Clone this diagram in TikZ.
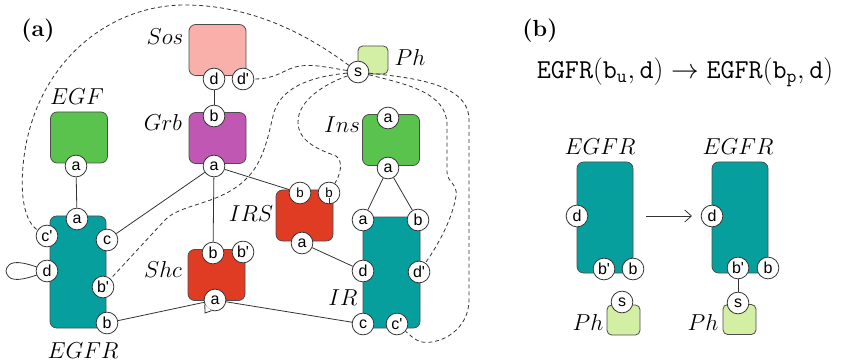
\documentclass[tikz,border=0pt]{standalone}
\usepackage{fontspec}
\setsansfont{Liberation Sans}
\usetikzlibrary{arrows.meta}
\definecolor{egfrcol}{HTML}{079E9E}
\definecolor{egfcol}{HTML}{5AC34E}
\definecolor{grbcol}{HTML}{C058B3}
\definecolor{soscol}{HTML}{F9AFAA}
\definecolor{redcol}{HTML}{E03C24}
\definecolor{phcol}{HTML}{D3EFA3}
\pgfdeclarelayer{back}
\pgfdeclarelayer{mid}
\pgfsetlayers{back,mid,main}
\newcommand{\pr}{\textquotesingle}
\begin{document}
\begin{tikzpicture}[x=0.75pt,y=-0.75pt,
  site/.style={circle,draw=black!80,fill=white,line width=0.6pt,minimum size=16.3pt,
    inner sep=0pt,font=\fontsize{12}{12}\sffamily},
  smallsite/.style={site,font=\fontsize{10}{10}\sffamily},
  prot/.style={draw=black!70,rounded corners=5pt,line width=0.6pt,
    minimum width=42.75pt,minimum height=38.25pt,inner sep=0pt},
  tall/.style={prot,minimum width=42pt,minimum height=84pt},
  phbox/.style={prot,rounded corners=3.5pt,fill=phcol},
  lbl/.style={font=\fontsize{17}{18}\selectfont},
  panel/.style={font=\fontsize{17.5}{19}\selectfont\bfseries},
  link/.style={draw=black!80,line width=0.6pt},
  dlink/.style={link,dash pattern=on 3pt off 2.2pt}]
\useasboundingbox (0,0) rectangle (841,363);

% ---------- panel (a): protein bodies ----------
\begin{pgfonlayer}{back}
  \node[prot,fill=soscol] (sos) at (217.5,50) {};
  \node[prot,fill=grbcol] (grb) at (217.5,138) {};
  \node[prot,fill=egfcol] (egf) at (79,137.5) {};
  \node[prot,fill=egfcol] (ins) at (391,140) {};
  \node[prot,fill=redcol] (shc) at (216.5,275) {};
  \node[prot,fill=redcol] (irs) at (304.5,215.5) {};
  \node[tall,fill=egfrcol] (egfr) at (78,272) {};
  \node[tall,fill=egfrcol,minimum width=42.75pt,minimum height=83.25pt] (ir) at (391.5,272.5) {};
  \node[phbox,minimum width=22.5pt,minimum height=21pt] (ph) at (373,60) {};
\end{pgfonlayer}

% labels
\node[panel] (laba) at (38,31) {(a)};
\node[lbl] (lsos) at (165,37) {$Sos$};
\node[lbl] (legf) at (77,97) {$EGF$};
\node[lbl] (lgrb) at (163,123) {$Grb$};
\node[lbl] (lshc) at (163,269) {$Shc$};
\node[lbl] (lirs) at (251,214) {$IRS$};
\node[lbl] (lins) at (342,125) {$Ins$};
\node[lbl] (lir) at (343,298) {$IR$};
\node[lbl] (lph) at (410,58) {$Ph$};
\node[lbl] (legfr) at (83,351) {$EGFR$};

% sites
\node[site] (sosD) at (214,79) {d};
\node[site] (sosDp) at (243,79) {d\pr};
\node[site] (grbB) at (214,116) {b};
\node[site] (grbA) at (214,166) {a};
\node[site] (egfA) at (76,166) {a};
\node[site] (egfrA) at (77,219) {a};
\node[site] (egfrCp) at (47,236) {c\pr};
\node[site] (egfrC) at (107,240) {c};
\node[site] (egfrD) at (47,271) {d};
\node[site] (egfrBp) at (103,287) {b\pr};
\node[site] (egfrB) at (107,323) {b};
\node[site] (shcB) at (213,253) {b};
\node[site] (shcBp) at (243,252) {b\pr};
\node[site] (shcA) at (215,300) {a};
\node[smallsite] (irsB) at (300,193) {b};
\node[smallsite] (irsB2) at (329,193) {b};
\node[site] (irsA) at (302,243) {a};
\node[site] (insA1) at (388,118) {a};
\node[site] (insA2) at (388,168) {a};
\node[site] (irA) at (363,220) {a};
\node[site] (irB) at (418,220) {b};
\node[site] (irD) at (363,271) {d};
\node[site] (irDp) at (419,272) {d\pr};
\node[site] (irC) at (363,324) {c};
\node[site] (irCp) at (397,324) {c\pr};
\node[site] (phS) at (358,72) {s};

% tail on Shc site a and stub on second IRS site b
\fill[white] (shcA.205) -- (205,313) -- (shcA.252) -- cycle;
\draw[link] (shcA.205) -- (205,313) -- (shcA.252);
\draw[link,line width=0.5pt] (329,198) -- (irsB2.south);

\begin{pgfonlayer}{mid}
  % bonds
  \draw[link] (sosD) -- (grbB);
  \draw[link] (egfA) -- (egfrA);
  \draw[link] (grbA) -- (egfrC);
  \draw[link] (grbA) -- (shcB);
  \draw[link] (grbA) -- (irsB);
  \draw[link] (insA2) -- (irA);
  \draw[link] (insA2) -- (irB);
  \draw[link] (irsA) -- (irD);
  \draw[link] (egfrB) -- (shcA);
  \draw[link] (shcA) -- (irC);
  % intramolecular loop on EGFR site d (teardrop)
  \draw[link] (egfrD.center) .. controls (28,263) and (14,260) .. (9,265)
     .. controls (5,269) and (5,273) .. (9,277)
     .. controls (14,282) and (28,279) .. (egfrD.center);
  % phosphatase reach (dashed)
  \draw[dlink] (phS) .. controls (325,48) and (265,5) .. (185,5)
     .. controls (110,5) and (40,60) .. (25,150)
     .. controls (18,195) and (25,222) .. (egfrCp);
  \draw[dlink] (phS) .. controls (330,68) and (315,64) .. (300,66)
     .. controls (285,68) and (278,79) .. (sosDp);
  \draw[dlink] (phS) .. controls (318,76) and (283,84) .. (274,112)
     .. controls (266,145) and (262,170) .. (235,188)
     .. controls (210,205) and (180,205) .. (165,220) -- (egfrBp);
  \draw[dlink] (phS) .. controls (325,84) and (298,100) .. (298,122)
     .. controls (298,142) and (320,150) .. (336,156)
     .. controls (344,162) and (340,175) .. (irsB2);
  \draw[dlink] (phS) .. controls (405,84) and (447,92) .. (447,125) -- (447,172)
     .. controls (447,182) and (458,184) .. (456,196)
     .. controls (452,220) and (438,245) .. (irDp);
  \draw[dlink] (phS) .. controls (415,78) and (469,84) .. (469,120) -- (469,300)
     .. controls (469,330) and (440,345) .. (422,342)
     .. controls (414,340) and (410,335) .. (irCp);
\end{pgfonlayer}

% ---------- panel (b) ----------
\node[panel] (labb) at (540,31) {(b)};
\node[font=\fontsize{20.5}{22}\selectfont] (rule) at (685,72)
  {$\mathtt{EGFR(b_{u},d)}\rightarrow\mathtt{EGFR(b_{p},d)}$};

\begin{pgfonlayer}{back}
  \node[tall,fill=egfrcol,minimum height=83.25pt] (egfrL) at (605,217.5) {};
  \node[tall,fill=egfrcol,minimum height=83.25pt] (egfrR) at (740,217.5) {};
  \node[phbox,minimum width=24.75pt,minimum height=22.5pt] (phL) at (623.5,320) {};
  \node[phbox,minimum width=24.75pt,minimum height=22.5pt] (phR) at (739.5,319.5) {};
\end{pgfonlayer}

\node[lbl] (legfrL) at (600,147) {$EGFR$};
\node[lbl] (legfrR) at (738,147) {$EGFR$};
\node[lbl] (lphL) at (588,322) {$Ph$};
\node[lbl] (lphR) at (703,322) {$Ph$};

\node[site] (dL) at (577,216) {d};
\node[site] (bpL) at (604,269) {b\pr};
\node[site] (bL) at (633,269) {b};
\node[site] (sL) at (622,302) {s};
\node[site] (dR) at (712,216) {d};
\node[site] (bpR) at (738,268) {b\pr};
\node[site] (bR) at (768,268) {b};
\node[site] (sR) at (738,303) {s};

\begin{pgfonlayer}{mid}
  \draw[link] (bpR) -- (sR);
\end{pgfonlayer}

\coordinate (arrS) at (646,216);
\coordinate (arrE) at (692,216);
\draw[link,-{Straight Barb[length=5pt,width=9pt]}] (arrS) -- (arrE);
\end{tikzpicture}
\end{document}
